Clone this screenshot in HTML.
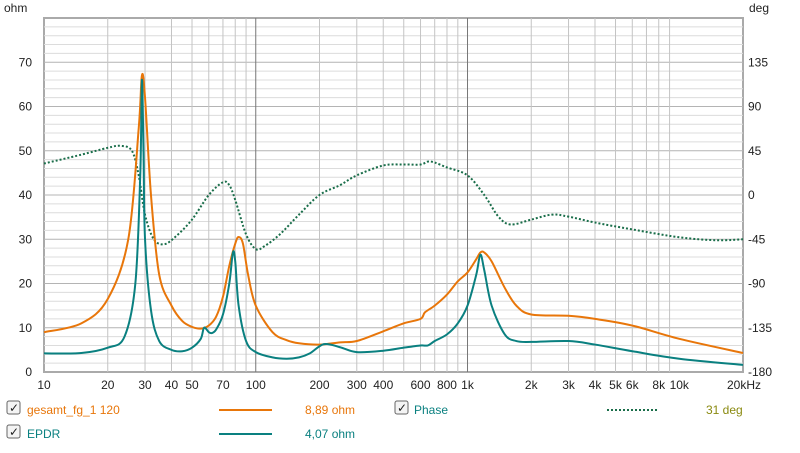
<!DOCTYPE html>
<html><head><meta charset="utf-8"><style>
body{margin:0;background:#fff;font-family:"Liberation Sans",sans-serif}
svg text{font-family:"Liberation Sans",sans-serif;font-size:12px}
</style></head><body>
<svg id="c" width="800" height="448" xmlns="http://www.w3.org/2000/svg">
<rect x="0" y="0" width="800" height="448" fill="#fff"/>
<g id="grid"></g>
<g id="axes"></g>
<g id="series"></g>
<g>
 <g>
  <rect x="7" y="401" width="13" height="13" rx="2" fill="#f4f4f4" stroke="#666"/>
  <text x="9" y="412" font-size="12" fill="#222">✓</text>
  <text x="27" y="414" fill="#e8760a">gesamt_fg_1 120</text>
  <line x1="219" y1="410" x2="272" y2="410" stroke="#e8760a" stroke-width="2"/>
  <text x="305" y="414" fill="#e8760a">8,89 ohm</text>
 </g>
 <g>
  <rect x="395" y="401" width="13" height="13" rx="2" fill="#f4f4f4" stroke="#666"/>
  <text x="397" y="412" font-size="12" fill="#222">✓</text>
  <text x="414" y="414" fill="#0a8080">Phase</text>
  <line x1="607" y1="410" x2="657" y2="410" stroke="#1a6e4a" stroke-width="2" stroke-dasharray="2,2"/>
  <text x="706" y="414" fill="#8a8a10">31 deg</text>
 </g>
 <g>
  <rect x="7" y="425" width="13" height="13" rx="2" fill="#f4f4f4" stroke="#666"/>
  <text x="9" y="436" font-size="12" fill="#222">✓</text>
  <text x="27" y="438" fill="#0a8080">EPDR</text>
  <line x1="219" y1="434" x2="272" y2="434" stroke="#0a8080" stroke-width="2"/>
  <text x="305" y="438" fill="#0a8080">4,07 ohm</text>
 </g>
</g>
</svg>
<script>
const gesamtF=[10,15,20,25,28,29,30,32,35,40,45,50,55,60,65,70,75,80,83,87,92,100,120,140,160,200,250,300,400,500,600,630,700,800,900,1000,1100,1150,1200,1300,1500,1700,2000,3000,4000,6000,10000,20000];
const gesamtZ=[9.0,11,16.5,30,55,67,62,40,22,15,11.5,10.2,9.8,10.5,12.5,17,24,29,30.5,29,22,15,9,7.2,6.5,6.2,6.7,7,9.2,11,12,13.5,15,17.5,20.5,22.5,25.5,27,27,25,19,15,13,12.7,12,10.5,7.5,4.3];
const epdrF=[10,15,20,24,27,28.5,29,29.5,30,32,35,40,45,50,55,57,60,62,65,70,75,78,80,83,90,100,120,140,160,180,210,250,300,400,500,600,650,700,800,900,1000,1100,1150,1200,1300,1500,1700,2000,3000,4000,6000,10000,20000];
const epdrZ=[4.2,4.3,5.5,8,20,45,66,50,30,14,7,5,4.7,5.5,7.5,10,9.0,8.8,9.6,13,20,27,25,15,7,4.5,3.3,3,3.3,4.2,6.3,5.6,4.5,4.8,5.5,6,6,7,8.5,11,15,22,26.5,23,15,8.5,7,6.8,7,6.2,4.7,3,1.6];
const phaseF=[10,15,20,23,26,28,30,33,37,42,50,60,70,75,80,90,100,110,130,160,200,250,300,400,500,600,650,700,800,1000,1200,1400,1600,2000,2500,3000,4000,6000,10000,15000,20000];
const phaseD=[32,41,48,50,45,20,-20,-45,-50,-42,-25,0,13,10,-5,-40,-55,-52,-40,-20,0,10,20,30,31,31,34,33,28,20,0,-22,-30,-25,-20,-22,-28,-35,-43,-46,-45];
const yTicks=[0,10,20,30,40,50,60,70];
const degTicks=[-180,-135,-90,-45,0,45,90,135];
const xTicks=[10,20,30,40,50,70,100,200,300,400,600,800,1000,2000,3000,4000,5000,6000,8000,10000,20000];
const xTickLabels=["10","20","30","40","50","70","100","200","300","400","600","800","1k","2k","3k","4k","5k","6k","8k","10k","20kHz"];

const L=44,R=743,T=18,B=372;
const xs=f=>L+(Math.log10(f)-1)*(R-L)/Math.log10(2000);
const ys=z=>B-z*(B-T)/80;
const yd=d=>B-(d+180)*(B-T)/360;
const NS="http://www.w3.org/2000/svg";
function mk(tag,attrs,parent){const e=document.createElementNS(NS,tag);for(const k in attrs)e.setAttribute(k,attrs[k]);parent.appendChild(e);return e;}
const grid=document.getElementById('grid'),axes=document.getElementById('axes'),ser=document.getElementById('series');
mk('rect',{x:L,y:T,width:R-L,height:B-T,fill:'#fff',stroke:'#aaa','stroke-width':2},grid);
for(let z=2;z<80;z+=2){const l=mk('line',{x1:L,x2:R,y1:ys(z),y2:ys(z),stroke:z%10==0?'#b4b4b4':'#dcdcdc'},grid);

}
for(let d=1;d<=3;d++)for(let m=1;m<=9;m++){const f=Math.pow(10,d)*m;if(f<=10||f>20000)continue;
const l=mk('line',{x1:xs(f),x2:xs(f),y1:T,y2:B,stroke:m==1?'#777':'#c4c4c4'},grid);

}
yTicks.forEach(z=>{const t=mk('text',{x:32,y:ys(z)+4,'text-anchor':'end',fill:'#222'},axes);t.textContent=z;

});
degTicks.forEach(d=>{const t=mk('text',{x:748,y:yd(d)+4,fill:'#222'},axes);t.textContent=d;

});
xTicks.forEach((f,i)=>{const last=i==xTicks.length-1;const t=mk('text',{x:last?xs(f)-5:xs(f),y:389,'text-anchor':last?'start':'middle',fill:'#222'},axes);t.textContent=xTickLabels[i];
if(last)t.setAttribute('x',xs(f)-16);

});
let t1=mk('text',{x:4,y:12,fill:'#222'},axes);t1.textContent='ohm';


let t2=mk('text',{x:749,y:12,fill:'#222'},axes);t2.textContent='deg';


function path(F,V,yf){const p=F.map((f,i)=>[xs(f),yf(V[i])]);let d='M'+p[0][0]+','+p[0][1];
for(let i=0;i<p.length-1;i++){const p0=p[Math.max(0,i-1)],p1=p[i],p2=p[i+1],p3=p[Math.min(p.length-1,i+2)];
const c1=[p1[0]+(p2[0]-p0[0])/6,p1[1]+(p2[1]-p0[1])/6],c2=[p2[0]-(p3[0]-p1[0])/6,p2[1]-(p3[1]-p1[1])/6];
d+=' C'+c1+' '+c2+' '+p2;}return d;}
let a=mk('path',{d:path(phaseF,phaseD,yd),fill:'none',stroke:'#1a6e4a','stroke-width':2,'stroke-dasharray':'2,2'},ser);


let b=mk('path',{d:path(gesamtF,gesamtZ,ys),fill:'none',stroke:'#e8760a','stroke-width':2},ser);


let c=mk('path',{d:path(epdrF,epdrZ,ys),fill:'none',stroke:'#0a8080','stroke-width':2},ser);


</script>
</body></html>
